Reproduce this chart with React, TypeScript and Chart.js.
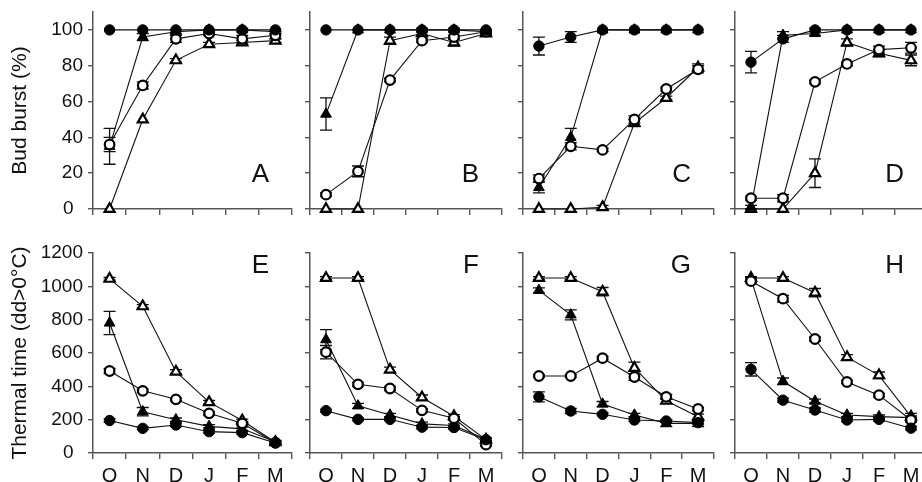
import React, { useEffect, useRef } from 'react';
import { Chart, registerables } from 'chart.js';
Chart.register(...registerables);

// ---------- data ----------
const months = ['O', 'N', 'D', 'J', 'F', 'M'];
const budTicks = [0, 20, 40, 60, 80, 100];
const thermalTicks = [0, 200, 400, 600, 800, 1000, 1200];

// Bud burst (%) — fc = filled circle, oc = open circle, ft = filled triangle, ot = open triangle
const A_fc = [100, 100, 100, 100, 100, 100];
const A_fcErr = [0, 0, 0, 0, 0, 0];
const A_oc = [36, 69, 95, 98, 95, 97];
const A_ocErr = [4, 2, 2, 1, 2, 2];
const A_ft = [35, 96, 99, 100, 100, 99];
const A_ftErr = [10, 2, 1, 0, 1, 1];
const A_ot = [0, 50, 83, 92, 93, 94];
const A_otErr = [0, 0, 1, 1, 1, 1];

const B_fc = [100, 100, 100, 100, 100, 100];
const B_fcErr = [0, 0, 0, 0, 0, 0];
const B_oc = [8, 21, 72, 94, 96, 99];
const B_ocErr = [1, 3, 1, 1, 1, 1];
const B_ft = [53, 100, 100, 100, 100, 99];
const B_ftErr = [9, 0, 0, 1, 1, 1];
const B_ot = [0, 0, 94, 98, 93, 98];
const B_otErr = [0, 0, 2, 1, 2, 1];

const C_fc = [91, 96, 100, 100, 100, 100];
const C_fcErr = [5, 3, 0, 0, 0, 0];
const C_oc = [17, 35, 33, 50, 67, 78];
const C_ocErr = [2, 2, 1, 2, 1, 2];
const C_ft = [12, 40, 100, 100, 100, 100];
const C_ftErr = [3, 5, 0, 0, 0, 0];
const C_ot = [0, 0, 1, 48, 62, 79];
const C_otErr = [0, 0, 1, 2, 1, 2];

const D_fc = [82, 95, 100, 100, 100, 100];
const D_fcErr = [6, 2, 1, 0, 0, 0];
const D_oc = [6, 6, 71, 81, 89, 90];
const D_ocErr = [1, 2, 1, 1, 2, 3];
const D_ft = [1, 97, 98, 100, 100, 100];
const D_ftErr = [1, 2, 1, 0, 0, 0];
const D_ot = [0, 0, 20, 93, 87, 83];
const D_otErr = [0, 0, 8, 2, 2, 3];

// Thermal time (dd>0°C)
const E_fc = [195, 148, 168, 128, 122, 60];
const E_fcErr = [10, 8, 10, 8, 8, 8];
const E_oc = [492, 373, 322, 238, 178, 62];
const E_ocErr = [15, 10, 8, 10, 10, 8];
const E_ft = [780, 248, 200, 160, 145, 68];
const E_ftErr = [70, 25, 10, 10, 10, 8];
const E_ot = [1045, 880, 488, 305, 195, 65];
const E_otErr = [8, 10, 12, 10, 8, 8];

const F_fc = [254, 202, 202, 155, 153, 80];
const F_fcErr = [8, 8, 8, 10, 10, 8];
const F_oc = [605, 412, 387, 256, 208, 50];
const F_ocErr = [40, 12, 12, 10, 10, 8];
const F_ft = [680, 283, 228, 175, 165, 82];
const F_ftErr = [60, 15, 10, 10, 10, 8];
const F_ot = [1050, 1050, 500, 333, 220, 80];
const F_otErr = [8, 8, 15, 15, 10, 8];

const G_fc = [337, 252, 232, 198, 192, 182];
const G_fcErr = [30, 15, 8, 8, 8, 8];
const G_oc = [462, 462, 569, 456, 337, 264];
const G_ocErr = [8, 8, 10, 20, 15, 10];
const G_ft = [976, 829, 294, 228, 178, 178];
const G_ftErr = [15, 30, 15, 10, 20, 20];
const G_ot = [1050, 1050, 968, 510, 313, 218];
const G_otErr = [8, 8, 25, 35, 15, 15];

const H_fc = [502, 317, 258, 198, 202, 149];
const H_fcErr = [40, 12, 12, 10, 10, 10];
const H_oc = [1031, 926, 684, 426, 347, 198];
const H_ocErr = [10, 20, 12, 10, 10, 12];
const H_ft = [1045, 430, 311, 228, 218, 212];
const H_ftErr = [8, 20, 12, 10, 10, 10];
const H_ot = [1050, 1050, 962, 575, 466, 218];
const H_otErr = [8, 8, 25, 15, 20, 20];

// ---------- styling / layout ----------
const FONT = '"Liberation Sans", Arial, Helvetica, sans-serif';
const AXIS = '#555';
const INK = '#111';
const plotLefts = [93, 310, 523, 735];
const plotRights = [292, 502, 714, 927];

const markerStyles = [
  { pointStyle: 'circle', radius: 5.2, bg: '#000', bw: 1 },
  { pointStyle: 'circle', radius: 4.8, bg: '#fff', bw: 2.2 },
  { pointStyle: 'triangle', radius: 6.2, bg: '#000', bw: 1 },
  { pointStyle: 'triangle', radius: 5.8, bg: '#fff', bw: 2.2 },
];

const errorBarPlugin = {
  id: 'errorBars',
  beforeDatasetsDraw(chart: any) {
    const ctx = chart.ctx;
    const xs = chart.scales.x;
    const ys = chart.scales.y;
    ctx.save();
    ctx.strokeStyle = INK;
    ctx.lineWidth = 1.3;
    chart.data.datasets.forEach((ds: any) => {
      const errs = ds.errors;
      if (!errs) return;
      ds.data.forEach((v: number, i: number) => {
        const e = errs[i];
        if (!e) return;
        const px = xs.getPixelForValue(i);
        const top = ys.getPixelForValue(v + e);
        const bot = ys.getPixelForValue(v - e);
        ctx.beginPath();
        ctx.moveTo(px, top);
        ctx.lineTo(px, bot);
        ctx.moveTo(px - 6, top);
        ctx.lineTo(px + 6, top);
        ctx.moveTo(px - 6, bot);
        ctx.lineTo(px + 6, bot);
        ctx.stroke();
      });
    });
    ctx.restore();
  },
};

const letterPlugin = {
  id: 'panelLetter',
  afterDraw(chart: any, _args: any, opts: any) {
    if (!opts || !opts.text) return;
    const ctx = chart.ctx;
    const area = chart.chartArea;
    ctx.save();
    ctx.font = `26px ${FONT}`;
    ctx.fillStyle = INK;
    ctx.textAlign = 'right';
    ctx.textBaseline = 'alphabetic';
    ctx.fillText(opts.text, area.right - 23, area.top + opts.dy);
    ctx.restore();
  },
};

type PanelCfg = {
  letter: string;
  row: number;
  col: number;
  series: number[][];
  errors: number[][];
};

const panels: PanelCfg[] = [
  { letter: 'A', row: 0, col: 0, series: [A_fc, A_oc, A_ft, A_ot], errors: [A_fcErr, A_ocErr, A_ftErr, A_otErr] },
  { letter: 'B', row: 0, col: 1, series: [B_fc, B_oc, B_ft, B_ot], errors: [B_fcErr, B_ocErr, B_ftErr, B_otErr] },
  { letter: 'C', row: 0, col: 2, series: [C_fc, C_oc, C_ft, C_ot], errors: [C_fcErr, C_ocErr, C_ftErr, C_otErr] },
  { letter: 'D', row: 0, col: 3, series: [D_fc, D_oc, D_ft, D_ot], errors: [D_fcErr, D_ocErr, D_ftErr, D_otErr] },
  { letter: 'E', row: 1, col: 0, series: [E_fc, E_oc, E_ft, E_ot], errors: [E_fcErr, E_ocErr, E_ftErr, E_otErr] },
  { letter: 'F', row: 1, col: 1, series: [F_fc, F_oc, F_ft, F_ot], errors: [F_fcErr, F_ocErr, F_ftErr, F_otErr] },
  { letter: 'G', row: 1, col: 2, series: [G_fc, G_oc, G_ft, G_ot], errors: [G_fcErr, G_ocErr, G_ftErr, G_otErr] },
  { letter: 'H', row: 1, col: 3, series: [H_fc, H_oc, H_ft, H_ot], errors: [H_fcErr, H_ocErr, H_ftErr, H_otErr] },
];

// row geometry in page pixels
const rowGeom = [
  { canvasTop: -10, canvasH: 235, plotTop: 12, plotBottom: 209, max: 110, ticks: budTicks, title: 'Bud burst (%)', letterDy: 170 },
  { canvasTop: 225, canvasH: 290, plotTop: 253, plotBottom: 453, max: 1200, ticks: thermalTicks, title: 'Thermal time (dd>0°C)', letterDy: 20 },
];

function Panel({ cfg }: { cfg: PanelCfg }) {
  const ref = useRef<HTMLCanvasElement | null>(null);
  const g = rowGeom[cfg.row];
  const first = cfg.col === 0;
  const yw = first ? plotLefts[0] : 10;
  const canvasLeft = plotLefts[cfg.col] - yw;
  const padR = 8;
  const w = plotRights[cfg.col] + padR - canvasLeft;
  const h = g.canvasH;
  const padTop = g.plotTop - g.canvasTop;
  const xh = g.canvasTop + h - g.plotBottom;

  useEffect(() => {
    if (!ref.current) return;
    const datasets = cfg.series.map((data, si) => {
      const m = markerStyles[si];
      return {
        data,
        errors: cfg.errors[si],
        borderColor: INK,
        borderWidth: 1.1,
        pointStyle: m.pointStyle,
        pointRadius: m.radius,
        pointBackgroundColor: m.bg,
        pointBorderColor: '#000',
        pointBorderWidth: m.bw,
        tension: 0,
        clip: false,
        fill: false,
      } as any;
    });
    const chart = new Chart(ref.current, {
      type: 'line',
      data: { labels: months, datasets },
      plugins: [errorBarPlugin, letterPlugin],
      options: {
        animation: false,
        responsive: false,
        devicePixelRatio: 1,
        events: [],
        layout: { padding: { top: padTop, left: 0, right: padR, bottom: 0 } },
        plugins: {
          legend: { display: false },
          tooltip: { enabled: false },
          panelLetter: { text: cfg.letter, dy: g.letterDy },
        } as any,
        scales: {
          x: {
            type: 'category',
            offset: true,
            grid: { offset: true, drawOnChartArea: false, drawTicks: true, tickLength: 6, color: AXIS, lineWidth: 1.4 },
            border: { color: AXIS, width: 1.5 },
            ticks: { display: cfg.row === 1, color: INK, font: { family: FONT, size: 20 }, padding: 5, maxRotation: 0, autoSkip: false },
            afterFit: (s: any) => { s.height = xh; s.paddingLeft = 0; s.paddingRight = 0; },
          },
          y: {
            type: 'linear',
            min: 0,
            max: g.max,
            afterBuildTicks: (s: any) => { s.ticks = g.ticks.map((v) => ({ value: v })); },
            grid: { drawOnChartArea: false, drawTicks: true, tickLength: 5, color: AXIS, lineWidth: 1.4 },
            border: { color: AXIS, width: 1.5 },
            ticks: {
              display: first,
              color: INK,
              padding: 5,
              font: { family: FONT, size: 19 },
              callback: (v: any) => (v === 0 ? '0\u2002' : String(v)),
            },
            title: {
              display: first,
              text: g.title,
              color: INK,
              font: { family: FONT, size: 21 },
              padding: { top: 8, bottom: 0 },
            },
            afterFit: (s: any) => { s.width = yw; s.paddingTop = 0; s.paddingBottom = 0; },
          },
        },
      } as any,
    });
    return () => chart.destroy();
  }, []);

  return (
    <canvas
      ref={ref}
      width={w}
      height={h}
      style={{ position: 'absolute', left: canvasLeft, top: g.canvasTop, width: w, height: h, display: 'block' }}
    />
  );
}

export default function App() {
  return (
    <div style={{ position: 'absolute', left: 0, top: 0, width: 922, height: 482, overflow: 'hidden', background: '#fff' }}>
      {panels.map((p) => (
        <Panel key={p.letter} cfg={p} />
      ))}
    </div>
  );
}
